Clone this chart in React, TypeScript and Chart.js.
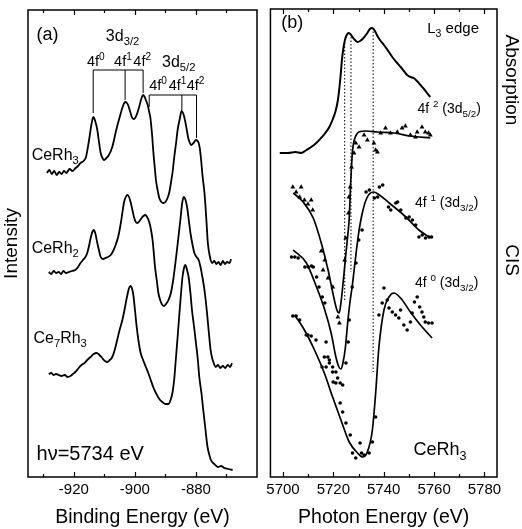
import { useEffect, useRef } from "react";
import { Chart, registerables } from "chart.js";

Chart.register(...registerables);

const FONT = '"Liberation Sans", Arial, Helvetica, sans-serif';

// ---------------- Panel (a): XPS spectra ----------------
const ticksA = [-930, -920, -910, -900, -890, -880, -870];
const tickLabelsA = [-920, -900, -880];

const ceRh3E = [-928.8, -928.0, -927.2, -926.4, -925.6, -924.8, -924.0, -923.2, -922.4, -921.4, -920.4, -919.4, -918.6, -917.8, -916.8, -916.0, -915.0, -914.2, -913.6, -912.9, -912.3, -911.7, -911.2, -910.6, -910.1, -909.3, -908.5, -907.4, -906.1, -904.6, -903.9, -903.2, -902.6, -902.1, -901.5, -901.0, -900.4, -899.9, -899.2, -898.6, -897.9, -897.3, -896.8, -896.4, -895.8, -895.3, -894.9, -894.6, -894.3, -894.0, -893.5, -893.1, -892.5, -892.0, -891.3, -890.7, -890.0, -889.3, -888.7, -888.2, -887.6, -887.1, -886.5, -886.0, -885.3, -884.7, -884.1, -883.6, -883.1, -882.6, -882.1, -881.6, -880.8, -880.0, -879.5, -879.1, -878.7, -878.3, -877.8, -877.2, -876.6, -876.1, -875.4, -874.7, -874.0, -873.3, -872.6, -871.9, -871.2, -870.5, -869.8, -869.0, -868.5];
const ceRh3I = [30.4, 30.7, 30.3, 30.6, 30.2, 30.5, 30.3, 30.6, 30.4, 30.8, 30.6, 30.9, 31.1, 31.4, 31.6, 32.0, 33.7, 35.3, 36.0, 35.5, 34.7, 33.4, 32.4, 31.9, 31.7, 31.9, 32.2, 33.0, 34.7, 36.4, 37.1, 37.5, 37.4, 37.1, 36.5, 36.0, 35.8, 35.9, 36.4, 37.0, 37.8, 38.2, 38.0, 37.7, 37.2, 36.5, 35.9, 35.0, 34.0, 32.7, 31.0, 29.7, 28.6, 27.9, 27.5, 27.4, 27.5, 27.9, 28.5, 29.4, 30.6, 32.0, 33.4, 34.7, 35.8, 36.6, 36.3, 35.7, 34.9, 34.0, 33.5, 33.2, 33.4, 33.7, 33.6, 33.4, 32.8, 31.7, 30.0, 28.4, 25.8, 23.4, 22.0, 21.4, 21.6, 21.3, 21.5, 21.2, 21.6, 21.3, 21.5, 21.4, 21.8];

const ceRh2E = [-928.2, -927.4, -926.6, -925.8, -925.0, -924.2, -923.4, -922.6, -921.6, -920.6, -919.5, -918.6, -917.8, -917.0, -916.2, -915.6, -915.1, -914.4, -913.8, -913.4, -912.9, -912.3, -911.7, -911.2, -910.4, -909.6, -908.8, -907.9, -907.1, -906.3, -905.4, -904.6, -904.1, -903.6, -903.0, -902.5, -901.9, -901.4, -900.8, -900.3, -899.7, -899.2, -898.5, -897.8, -897.2, -896.6, -896.0, -895.3, -894.7, -894.2, -893.8, -893.4, -892.8, -892.3, -891.6, -891.0, -890.4, -889.8, -889.0, -888.2, -887.4, -886.6, -885.8, -885.1, -884.5, -884.0, -883.4, -882.9, -882.3, -881.8, -881.1, -880.5, -879.8, -879.1, -878.5, -878.0, -877.5, -877.0, -876.5, -876.0, -875.6, -875.2, -874.7, -874.3, -873.5, -872.8, -872.0, -871.2, -870.4, -869.6, -868.8, -868.2];
const ceRh2I = [20.5, 20.3, 20.6, 20.4, 20.5, 20.3, 20.6, 20.4, 20.5, 20.6, 20.7, 21.0, 21.4, 21.7, 22.0, 22.4, 23.0, 24.0, 24.6, 24.7, 24.3, 23.4, 22.6, 22.0, 21.8, 21.9, 22.0, 22.2, 22.6, 23.2, 24.1, 25.4, 26.4, 27.4, 28.0, 28.2, 28.0, 27.5, 26.7, 26.0, 25.5, 25.4, 25.6, 25.9, 26.1, 26.2, 26.0, 25.5, 24.7, 23.7, 22.4, 21.0, 19.6, 18.4, 17.6, 17.2, 17.1, 17.3, 17.7, 18.4, 19.8, 21.7, 23.8, 25.7, 27.4, 28.0, 27.7, 27.0, 25.6, 24.4, 23.2, 22.4, 22.0, 21.7, 21.0, 20.2, 19.3, 18.2, 16.8, 15.2, 13.9, 12.7, 11.9, 11.5, 11.0, 11.2, 10.9, 11.1, 10.9, 11.2, 11.0, 11.4];

const ce7Rh3E = [-928.2, -927.4, -926.6, -925.8, -924.9, -924.0, -923.0, -922.0, -921.1, -920.3, -919.5, -918.4, -917.5, -916.5, -915.6, -914.5, -913.5, -912.5, -911.6, -910.7, -909.8, -909.0, -908.2, -907.4, -906.6, -905.8, -905.0, -904.1, -903.4, -902.8, -902.3, -901.9, -901.4, -900.9, -900.5, -900.0, -899.4, -898.8, -898.1, -897.3, -896.4, -895.6, -894.8, -894.0, -893.1, -892.0, -891.0, -890.0, -889.0, -888.3, -887.7, -887.1, -886.6, -886.0, -885.5, -884.9, -884.4, -883.9, -883.5, -883.0, -882.4, -881.8, -881.3, -880.6, -880.0, -879.4, -878.9, -878.2, -877.6, -876.9, -876.2, -875.6, -875.1, -874.0, -872.8, -871.8, -870.7, -869.4, -868.0];
const ce7Rh3I = [10.3, 10.4, 10.2, 10.3, 10.2, 10.1, 10.2, 10.0, 10.1, 10.3, 10.5, 10.9, 11.2, 11.4, 11.7, 12.0, 12.3, 12.4, 12.2, 11.9, 11.6, 11.5, 11.7, 12.0, 12.7, 13.7, 14.7, 15.7, 16.7, 17.7, 18.4, 18.9, 19.1, 18.8, 18.2, 16.8, 15.0, 13.6, 12.4, 11.7, 11.0, 10.4, 9.7, 9.0, 8.4, 7.8, 7.5, 7.3, 7.3, 7.7, 8.4, 9.8, 11.7, 14.0, 16.0, 18.3, 20.0, 20.9, 21.2, 20.8, 20.0, 18.4, 16.7, 15.0, 13.4, 11.8, 10.0, 8.4, 6.7, 4.8, 3.0, 2.2, 1.7, 1.3, 1.0, 1.1, 0.9, 0.8, 0.7];

// bracket markers (peak energies, level of bar, end of drop lines)
const d32Peaks = [-913.65, -903.2, -897.3];
const d32Ends = [36.4, 37.7, 38.4];
const d32Level = 40.7;
const d52Peaks = [-895.3, -884.6, -879.8];
const d52Ends = [37.0, 36.7, 33.9];
const d52Level = 38.2;

// ---------------- Panel (b): absorption + CIS ----------------
const ticksB = [5700, 5710, 5720, 5730, 5740, 5750, 5760, 5770, 5780];
const tickLabelsB = [5700, 5720, 5740, 5760, 5780];

const absE = [5698.7, 5702.0, 5705.0, 5707.2, 5709.3, 5711.2, 5713.2, 5715.1, 5716.8, 5718.4, 5719.8, 5721.0, 5721.8, 5722.3, 5722.9, 5723.4, 5724.0, 5724.6, 5725.3, 5725.9, 5726.7, 5727.6, 5728.6, 5729.6, 5730.6, 5731.6, 5732.6, 5733.5, 5734.5, 5735.5, 5736.5, 5737.5, 5738.8, 5740.1, 5741.8, 5743.4, 5745.0, 5746.7, 5748.0, 5749.3, 5750.6, 5751.9, 5753.2, 5754.6, 5756.0, 5757.2, 5758.5];
const absI = [32.4, 32.4, 32.5, 32.4, 32.7, 33.0, 33.4, 33.9, 34.4, 35.0, 35.8, 36.7, 37.7, 38.7, 40.2, 41.7, 42.9, 43.7, 44.2, 44.4, 44.3, 44.0, 43.7, 43.5, 43.6, 43.8, 44.1, 44.4, 44.8, 44.9, 44.6, 44.1, 43.6, 43.2, 42.6, 42.0, 41.5, 41.0, 40.6, 40.2, 40.0, 39.9, 39.6, 39.2, 38.8, 38.4, 38.0];

const fit2E = [5704.1, 5708.0, 5712.0, 5715.2, 5717.9, 5719.8, 5721.4, 5722.3, 5723.0, 5723.7, 5724.4, 5725.0, 5725.7, 5726.3, 5726.9, 5727.6, 5728.3, 5729.1, 5730.1, 5733.0, 5737.5, 5744.0, 5750.6, 5758.5];
const fit2I = [28.4, 27.5, 25.9, 23.4, 20.7, 18.4, 16.7, 16.4, 17.4, 19.0, 20.8, 22.4, 24.1, 25.9, 29.5, 32.6, 33.7, 34.2, 34.5, 34.6, 34.5, 34.4, 34.1, 33.9];
const pts2E = [5703.9, 5705.2, 5706.6, 5707.2, 5708.5, 5709.9, 5711.2, 5711.8, 5715.2, 5715.9, 5716.6, 5717.9, 5719.8, 5721.8, 5722.4, 5724.5, 5724.9, 5726.0, 5726.2, 5726.7, 5727.2, 5728.2, 5728.9, 5730.2, 5732.2, 5733.5, 5736.1, 5736.8, 5737.5, 5738.8, 5740.7, 5742.7, 5745.4, 5747.3, 5748.6, 5750.6, 5752.6, 5753.3, 5755.2, 5756.5, 5757.8, 5758.5];
const pts2I = [29.0, 28.5, 28.0, 29.0, 27.7, 27.3, 27.7, 26.7, 22.6, 20.7, 21.7, 19.9, 19.0, 16.0, 15.4, 21.7, 23.9, 26.4, 28.0, 29.0, 31.0, 32.4, 33.4, 33.0, 34.2, 33.7, 33.4, 32.7, 32.5, 34.4, 34.9, 34.4, 34.5, 34.9, 35.1, 34.2, 34.0, 34.5, 35.0, 34.5, 34.4, 34.2];

const fit1E = [5704.0, 5709.3, 5713.3, 5716.6, 5719.2, 5721.0, 5722.2, 5723.0, 5723.8, 5724.8, 5725.6, 5726.5, 5727.6, 5728.7, 5730.0, 5731.4, 5733.3, 5735.9, 5738.3, 5742.2, 5748.8, 5754.0, 5758.6];
const fit1I = [22.7, 21.4, 19.0, 16.7, 14.3, 12.0, 11.0, 10.8, 11.4, 13.0, 15.2, 17.3, 19.3, 21.7, 24.3, 26.3, 27.9, 28.5, 28.2, 27.4, 26.0, 24.7, 23.9];
const pts1E = [5703.4, 5704.7, 5706.0, 5708.7, 5710.0, 5711.3, 5712.0, 5713.3, 5714.3, 5715.6, 5716.6, 5717.1, 5717.8, 5718.4, 5719.7, 5721.0, 5721.7, 5722.7, 5723.7, 5725.0, 5725.9, 5726.3, 5727.5, 5729.0, 5730.1, 5731.4, 5733.0, 5734.3, 5736.3, 5737.6, 5738.3, 5739.6, 5741.9, 5742.8, 5744.8, 5745.5, 5746.8, 5748.8, 5750.1, 5751.4, 5752.7, 5754.0, 5755.3, 5756.6, 5758.0, 5759.0];
const pts1I = [22.0, 22.0, 21.9, 21.0, 21.0, 21.1, 21.0, 20.0, 19.0, 18.0, 17.4, 13.5, 12.0, 11.4, 11.0, 10.5, 9.9, 9.4, 9.2, 11.4, 13.5, 15.7, 19.0, 21.4, 23.7, 24.7, 28.5, 28.7, 27.9, 28.0, 29.0, 29.2, 27.0, 26.7, 27.4, 27.5, 26.7, 25.9, 26.0, 25.7, 25.2, 24.0, 24.2, 23.9, 24.0, 24.0];

const fit0E = [5704.6, 5708.5, 5712.5, 5716.4, 5719.7, 5723.0, 5726.3, 5729.6, 5731.6, 5733.5, 5735.5, 5736.8, 5738.1, 5740.1, 5742.1, 5744.0, 5746.7, 5750.6, 5754.6, 5759.2];
const fit0I = [16.2, 14.7, 12.7, 10.4, 8.0, 5.7, 3.5, 2.4, 2.0, 2.5, 4.7, 8.4, 13.0, 16.7, 18.0, 18.4, 17.9, 16.5, 15.2, 13.9];
const pts0E = [5703.9, 5705.2, 5706.6, 5709.2, 5709.9, 5711.2, 5713.1, 5715.5, 5716.4, 5717.1, 5718.4, 5719.7, 5719.9, 5721.0, 5722.7, 5723.7, 5725.0, 5726.7, 5727.6, 5728.9, 5730.6, 5731.2, 5732.2, 5734.2, 5735.5, 5736.8, 5738.1, 5739.4, 5740.1, 5741.4, 5742.1, 5743.4, 5744.7, 5746.0, 5746.7, 5748.0, 5749.3, 5750.6, 5751.3, 5752.2, 5753.3, 5754.3, 5755.2, 5755.9, 5756.5, 5757.8, 5759.2];
const pts0I = [16.1, 16.1, 15.7, 14.2, 14.2, 14.1, 13.7, 11.0, 12.0, 11.0, 11.7, 10.5, 9.5, 9.4, 7.4, 6.5, 5.4, 4.2, 2.4, 1.9, 3.4, 2.4, 2.2, 2.4, 3.5, 6.0, 16.2, 17.4, 18.9, 17.7, 16.9, 16.5, 16.2, 15.9, 16.7, 15.2, 14.7, 15.5, 16.4, 17.5, 18.0, 17.0, 16.5, 16.0, 15.5, 15.4, 15.4];

// dotted guide lines in (b): energy, top, bottom
const guideE = [5724.5, 5727.0, 5735.8];
const guideTop = [43.4, 44.0, 44.9];
const guideBottom = [17.5, 20.5, 10.5];

type Seg = { t: string; s?: "sub" | "sup" };
type Label = { x: number; y: number; size: number; segs: Seg[] };

const labelsA: Label[] = [
  { x: -932.2, y: 43.7, size: 18, segs: [{ t: "(a)" }] },
  { x: -909.5, y: 43.6, size: 16, segs: [{ t: "3d" }, { t: "3/2", s: "sub" }] },
  { x: -915.7, y: 41.1, size: 14.5, segs: [{ t: "4f" }, { t: "0", s: "sup" }] },
  { x: -906.8, y: 41.1, size: 14.5, segs: [{ t: "4f" }, { t: "1", s: "sup" }] },
  { x: -900.5, y: 41.1, size: 14.5, segs: [{ t: "4f" }, { t: "2", s: "sup" }] },
  { x: -891.1, y: 41.0, size: 16, segs: [{ t: "3d" }, { t: "5/2", s: "sub" }] },
  { x: -895.3, y: 38.7, size: 14.5, segs: [{ t: "4f" }, { t: "0", s: "sup" }] },
  { x: -888.9, y: 38.7, size: 14.5, segs: [{ t: "4f" }, { t: "1", s: "sup" }] },
  { x: -883.0, y: 38.7, size: 14.5, segs: [{ t: "4f" }, { t: "2", s: "sup" }] },
  { x: -933.8, y: 31.7, size: 16, segs: [{ t: "CeRh" }, { t: "3", s: "sub" }] },
  { x: -933.8, y: 22.4, size: 16, segs: [{ t: "CeRh" }, { t: "2", s: "sub" }] },
  { x: -933.2, y: 13.4, size: 16, segs: [{ t: "Ce" }, { t: "7", s: "sub" }, { t: "Rh" }, { t: "3", s: "sub" }] },
  { x: -932.2, y: 1.7, size: 20, segs: [{ t: "hν=5734 eV" }] },
];

const labelsB: Label[] = [
  { x: 5699.3, y: 44.9, size: 18, segs: [{ t: "(b)" }] },
  { x: 5757.3, y: 44.4, size: 15, segs: [{ t: "L" }, { t: "3", s: "sub" }, { t: " edge" }] },
  { x: 5753.4, y: 36.4, size: 14, segs: [{ t: "4f " }, { t: "2", s: "sup" }, { t: " (3d" }, { t: "5/2", s: "sub" }, { t: ")" }] },
  { x: 5752.4, y: 27.0, size: 14, segs: [{ t: "4f " }, { t: "1", s: "sup" }, { t: " (3d" }, { t: "3/2", s: "sub" }, { t: ")" }] },
  { x: 5752.4, y: 19.0, size: 14, segs: [{ t: "4f " }, { t: "0", s: "sup" }, { t: " (3d" }, { t: "3/2", s: "sub" }, { t: ")" }] },
  { x: 5751.8, y: 2.2, size: 18, segs: [{ t: "CeRh" }, { t: "3", s: "sub" }] },
];

const sideLabels = [
  { text: "Absorption", y: 39.7 },
  { text: "CIS", y: 21.7 },
];

function drawRich(ctx: CanvasRenderingContext2D, segs: Seg[], x: number, y: number, size: number) {
  ctx.save();
  ctx.fillStyle = "#000";
  ctx.textBaseline = "alphabetic";
  ctx.textAlign = "left";
  let cx = x;
  for (const sg of segs) {
    const fs = sg.s ? size * 0.7 : size;
    ctx.font = `${fs}px ${FONT}`;
    const dy = sg.s === "sub" ? size * 0.28 : sg.s === "sup" ? -size * 0.42 : 0;
    ctx.fillText(sg.t, cx, y + dy);
    cx += ctx.measureText(sg.t).width;
  }
  ctx.restore();
}

function pts(xs: number[], ys: number[]) {
  return xs.map((x, i) => ({ x, y: ys[i] }));
}

const framePlugin = {
  id: "frameTicks",
  afterDraw(chart: any) {
    const { ctx, chartArea: a, scales } = chart;
    const xs = scales.x;
    ctx.save();
    ctx.strokeStyle = "#000";
    ctx.lineWidth = 1.5;
    ctx.strokeRect(a.left, a.top, a.right - a.left, a.bottom - a.top);
    ctx.lineWidth = 1.2;
    ctx.beginPath();
    for (const t of xs.ticks) {
      const v = Math.round(t.value);
      const px = Math.round(xs.getPixelForValue(v)) + 0.5;
      const len = v % 20 === 0 ? 5 : 3;
      ctx.moveTo(px, a.bottom);
      ctx.lineTo(px, a.bottom - len);
      ctx.moveTo(px, a.top);
      ctx.lineTo(px, a.top + len);
    }
    ctx.stroke();
    ctx.restore();
  },
};

function lineSet(xs: number[], ys: number[], width: number) {
  return {
    data: pts(xs, ys),
    showLine: true,
    borderColor: "#000",
    backgroundColor: "#000",
    borderWidth: width,
    pointRadius: 0,
    cubicInterpolationMode: "monotone" as const,
  };
}

function pointSet(xs: number[], ys: number[], style: string, r: number) {
  return {
    data: pts(xs, ys),
    showLine: false,
    borderColor: "#000",
    backgroundColor: "#000",
    borderWidth: 0,
    pointStyle: style,
    pointRadius: r,
  };
}

function xAxis(min: number, max: number, title: string, tickValues: number[], labelValues: number[]) {
  return {
    type: "linear" as const,
    min,
    max,
    grid: { display: false, drawTicks: false },
    border: { display: false },
    afterBuildTicks: (s: any) => {
      s.ticks = tickValues.map((v) => ({ value: v }));
    },
    ticks: {
      autoSkip: false,
      maxRotation: 0,
      color: "#000",
      padding: 4,
      font: { family: FONT, size: 15 },
      callback: (v: any) => (labelValues.includes(Math.round(v)) ? String(Math.round(v)) : ""),
    },
    title: { display: true, text: title, color: "#000", font: { family: FONT, size: 19.5 }, padding: { top: 0, bottom: 0 } },
    afterFit: (s: any) => {
      s.height = 52;
    },
  };
}

export default function App() {
  const refA = useRef<HTMLCanvasElement>(null);
  const refB = useRef<HTMLCanvasElement>(null);

  useEffect(() => {
    const annotA = {
      id: "annotA",
      afterDatasetsDraw(chart: any) {
        const { ctx, scales } = chart;
        const X = (v: number) => scales.x.getPixelForValue(v);
        const Y = (v: number) => scales.y.getPixelForValue(v);
        ctx.save();
        ctx.strokeStyle = "#000";
        ctx.lineWidth = 1;
        const brackets = [
          { peaks: d32Peaks, ends: d32Ends, level: d32Level },
          { peaks: d52Peaks, ends: d52Ends, level: d52Level },
        ];
        ctx.beginPath();
        for (const b of brackets) {
          ctx.moveTo(X(b.peaks[0]), Y(b.level));
          ctx.lineTo(X(b.peaks[b.peaks.length - 1]), Y(b.level));
          b.peaks.forEach((p, i) => {
            ctx.moveTo(X(p), Y(b.level));
            ctx.lineTo(X(p), Y(b.ends[i]));
          });
        }
        ctx.stroke();
        ctx.restore();
        for (const l of labelsA) drawRich(ctx, l.segs, X(l.x), Y(l.y), l.size);
      },
    };

    const annotB = {
      id: "annotB",
      beforeDatasetsDraw(chart: any) {
        const { ctx, scales } = chart;
        const X = (v: number) => scales.x.getPixelForValue(v);
        const Y = (v: number) => scales.y.getPixelForValue(v);
        ctx.save();
        ctx.strokeStyle = "#000";
        ctx.lineWidth = 1;
        ctx.setLineDash([1.5, 2]);
        guideE.forEach((e, i) => {
          ctx.beginPath();
          ctx.moveTo(X(e), Y(guideTop[i]));
          ctx.lineTo(X(e), Y(guideBottom[i]));
          ctx.stroke();
        });
        ctx.restore();
      },
      afterDraw(chart: any) {
        const { ctx, scales, chartArea } = chart;
        const X = (v: number) => scales.x.getPixelForValue(v);
        const Y = (v: number) => scales.y.getPixelForValue(v);
        for (const l of labelsB) drawRich(ctx, l.segs, X(l.x), Y(l.y), l.size);
        ctx.save();
        ctx.fillStyle = "#000";
        ctx.font = `19px ${FONT}`;
        ctx.textAlign = "center";
        ctx.textBaseline = "middle";
        for (const s of sideLabels) {
          ctx.save();
          ctx.translate(chartArea.right + 14, Y(s.y));
          ctx.rotate(Math.PI / 2);
          ctx.fillText(s.text, 0, 0);
          ctx.restore();
        }
        ctx.restore();
      },
    };

    const chartA = new Chart(refA.current!, {
      type: "scatter",
      data: {
        datasets: [lineSet(ceRh3E, ceRh3I, 1.8), lineSet(ceRh2E, ceRh2I, 1.8), lineSet(ce7Rh3E, ce7Rh3I, 1.8)] as any,
      },
      options: {
        responsive: false,
        animation: false,
        events: [],
        layout: { padding: { left: 0, right: 5, top: 10, bottom: 0 } },
        plugins: { legend: { display: false }, tooltip: { enabled: false } },
        scales: {
          x: xAxis(-935, -860, "Binding Energy (eV)", ticksA, tickLabelsA) as any,
          y: {
            type: "linear",
            min: 0,
            max: 46.7,
            grid: { display: false, drawTicks: false },
            border: { display: false },
            ticks: { display: false },
            title: { display: true, text: "Intensity", color: "#000", font: { family: FONT, size: 19 }, padding: { top: 0, bottom: 0 } },
            afterFit: (s: any) => {
              s.width = 28;
            },
          } as any,
        },
      },
      plugins: [framePlugin, annotA],
    });

    const chartB = new Chart(refB.current!, {
      type: "scatter",
      data: {
        datasets: [
          lineSet(absE, absI, 2),
          lineSet(fit2E, fit2I, 1.7),
          pointSet(pts2E, pts2I, "triangle", 2.8),
          lineSet(fit1E, fit1I, 1.7),
          pointSet(pts1E, pts1I, "circle", 1.8),
          lineSet(fit0E, fit0I, 1.7),
          pointSet(pts0E, pts0I, "circle", 1.8),
        ] as any,
      },
      options: {
        responsive: false,
        animation: false,
        events: [],
        layout: { padding: { left: 6, right: 25, top: 9, bottom: 0 } },
        plugins: { legend: { display: false }, tooltip: { enabled: false } },
        scales: {
          x: xAxis(5695, 5785, "Photon Energy (eV)", ticksB, tickLabelsB) as any,
          y: { type: "linear", min: 0, max: 46.8, display: false } as any,
        },
      },
      plugins: [framePlugin, annotB],
    });

    return () => {
      chartA.destroy();
      chartB.destroy();
    };
  }, []);

  return (
    <div style={{ position: "fixed", left: 0, top: 0, width: 522, height: 529, background: "#fff" }}>
      <canvas ref={refA} width={262} height={529} style={{ position: "absolute", left: 0, top: 0, width: 262, height: 529 }} />
      <canvas ref={refB} width={260} height={529} style={{ position: "absolute", left: 262, top: 0, width: 260, height: 529 }} />
    </div>
  );
}
